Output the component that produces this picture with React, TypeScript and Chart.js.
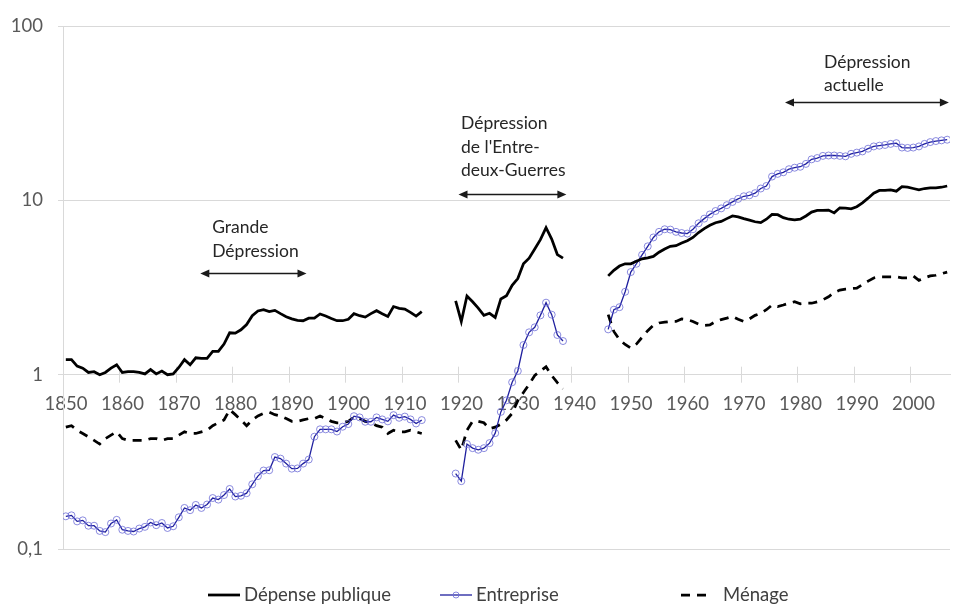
import React, { useEffect, useRef } from "react";
import { Chart, registerables } from "chart.js";

Chart.register(...registerables);

// ---------- DATA ----------
const firstYear = 1850;
const lastYear = 2006;
const periodStarts = [1850, 1919, 1946];

const depense1850 = [
  1.22, 1.22, 1.12, 1.09, 1.03, 1.04, 1.0, 1.03, 1.09, 1.14,
  1.03, 1.04, 1.04, 1.03, 1.01, 1.07, 1.01, 1.05, 1.0, 1.01,
  1.1, 1.22, 1.14, 1.25, 1.24, 1.24, 1.36, 1.36, 1.5, 1.74,
  1.73, 1.81, 1.94, 2.18, 2.32, 2.36, 2.3, 2.34, 2.24, 2.15,
  2.09, 2.05, 2.04, 2.11, 2.11, 2.23, 2.17, 2.1, 2.04, 2.04,
  2.08, 2.24, 2.18, 2.14, 2.24, 2.33, 2.24, 2.16, 2.46, 2.4,
  2.38, 2.28, 2.17, 2.3,
];
const depense1919 = [
  2.65, 2.02, 2.83, 2.62, 2.41, 2.19, 2.25, 2.13, 2.72, 2.84,
  3.26, 3.56, 4.33, 4.66, 5.26, 5.95, 6.98, 6.0, 4.89, 4.66,
];
const depense1946 = [
  3.69, 3.97, 4.2, 4.33, 4.33, 4.47, 4.62, 4.68, 4.77, 5.04,
  5.26, 5.45, 5.5, 5.69, 5.87, 6.13, 6.54, 6.89, 7.2, 7.45,
  7.58, 7.86, 8.14, 8.05, 7.86, 7.7, 7.54, 7.45, 7.8, 8.31,
  8.28, 7.96, 7.8, 7.74, 7.8, 8.14, 8.57, 8.76, 8.76, 8.8,
  8.48, 9.07, 9.03, 8.94, 9.2, 9.68, 10.3, 11.0, 11.4, 11.4,
  11.5, 11.3, 12.0, 11.9, 11.7, 11.5, 11.7, 11.8, 11.8, 11.9,
  12.1,
];

const entreprise1850 = [
  0.154, 0.156, 0.144, 0.146, 0.136, 0.136, 0.127, 0.125, 0.14, 0.147,
  0.129, 0.127, 0.126, 0.131, 0.134, 0.142, 0.137, 0.141, 0.132, 0.135,
  0.152, 0.172, 0.167, 0.179, 0.172, 0.18, 0.196, 0.192, 0.204, 0.221,
  0.2, 0.202, 0.209, 0.235, 0.262, 0.282, 0.283, 0.337, 0.33, 0.309,
  0.289, 0.29, 0.309, 0.326, 0.441, 0.486, 0.486, 0.486, 0.472, 0.503,
  0.521, 0.578, 0.569, 0.537, 0.537, 0.569, 0.554, 0.54, 0.586, 0.566,
  0.575, 0.554, 0.525, 0.549,
];
const entreprise1919 = [
  0.271, 0.245, 0.4, 0.379, 0.371, 0.379, 0.405, 0.462, 0.612, 0.713,
  0.905, 1.05, 1.48, 1.75, 1.87, 2.19, 2.59, 2.21, 1.69, 1.56,
];
const entreprise1946 = [
  1.82, 2.36, 2.44, 2.99, 3.88, 4.33, 4.87, 5.45, 6.13, 6.6,
  6.83, 6.8, 6.6, 6.5, 6.45, 6.83, 7.39, 7.86, 8.31, 8.69,
  9.0, 9.39, 9.8, 10.2, 10.56, 10.7, 11.0, 11.7, 12.1, 13.7,
  14.2, 14.5, 15.1, 15.4, 15.6, 16.2, 17.2, 17.5, 18.0, 18.1,
  18.1, 18.0, 17.9, 18.5, 18.8, 19.1, 19.8, 20.4, 20.6, 20.8,
  21.1, 21.3, 20.1, 20.0, 20.1, 20.4, 21.1, 21.6, 21.9, 22.1,
  22.3,
];

const menage1850 = [
  0.5, 0.51, 0.48, 0.46, 0.44, 0.42, 0.4, 0.43, 0.45, 0.47,
  0.43, 0.42, 0.42, 0.42, 0.42, 0.43, 0.43, 0.42, 0.43, 0.43,
  0.45, 0.47, 0.46, 0.46, 0.47, 0.48, 0.51, 0.53, 0.55, 0.63,
  0.59, 0.55, 0.51, 0.55, 0.58, 0.6, 0.61, 0.59, 0.58, 0.56,
  0.54, 0.54, 0.55, 0.56, 0.56, 0.58, 0.56, 0.54, 0.53, 0.53,
  0.54, 0.57, 0.56, 0.54, 0.53, 0.51, 0.5, 0.46, 0.48, 0.47,
  0.47, 0.48, 0.47, 0.46,
];
const menage1919 = [
  0.42, 0.37, 0.48, 0.54, 0.54, 0.53, 0.49, 0.5, 0.52, 0.55,
  0.6, 0.71, 0.79, 0.88, 0.99, 1.05, 1.11, 0.99, 0.9, 0.83,
];
const menage1946 = [
  2.21, 1.77, 1.59, 1.49, 1.42, 1.5, 1.64, 1.79, 1.92, 1.98,
  2.0, 2.02, 2.02, 2.09, 2.07, 2.02, 1.95, 1.92, 1.93, 2.02,
  2.07, 2.11, 2.16, 2.08, 2.02, 2.09, 2.19, 2.25, 2.36, 2.51,
  2.46, 2.51, 2.57, 2.62, 2.55, 2.57, 2.57, 2.62, 2.69, 2.8,
  2.96, 3.06, 3.1, 3.12, 3.14, 3.29, 3.44, 3.59, 3.64, 3.64,
  3.64, 3.64, 3.59, 3.59, 3.69, 3.48, 3.59, 3.69, 3.72, 3.8,
  3.88,
];

const seriesLabels = ["Dépense publique", "Entreprise", "Ménage"];
const xTickStep = 10;
const yTickValues = [0.1, 1, 10, 100];

const annotations = [
  { lines: ["Grande", "Dépression"], textYear: 1876.4, textValue: 7.0, arrowFrom: 1874.3, arrowTo: 1893.1, arrowValue: 3.84 },
  { lines: ["Dépression", "de l'Entre-", "deux-Guerres"], textYear: 1920.45, textValue: 27.5, arrowFrom: 1920.0, arrowTo: 1939.1, arrowValue: 10.87 },
  { lines: ["Dépression", "actuelle"], textYear: 1984.7, textValue: 62.3, arrowFrom: 1977.8, arrowTo: 2006.8, arrowValue: 36.8 },
];

// ---------- STYLE ----------
const FONT = "Lato";
const AXIS_COLOR = "#595959";
const GRID_COLOR = "#d9d9d9";
const legendStartX = [208, 440, 681];
const legendY = 595;
const legendLineLen = 32;

function assemble(parts: number[][]) {
  const byYear = new Map<number, number>();
  parts.forEach((arr, p) => arr.forEach((v, i) => byYear.set(periodStarts[p] + i, v)));
  const out: { x: number; y: number | null }[] = [];
  for (let yr = firstYear; yr <= lastYear; yr++) {
    // Excel category axis: each year's value sits in the middle of its slot
    out.push({ x: yr + 0.5, y: byYear.has(yr) ? (byYear.get(yr) as number) : null });
  }
  return out;
}

const crossTicksPlugin = {
  id: "crossTicks",
  beforeDatasetsDraw(chart: any) {
    const { ctx, scales } = chart;
    const xs = scales.x;
    const y0 = scales.y.getPixelForValue(1);
    ctx.save();
    ctx.strokeStyle = GRID_COLOR;
    ctx.lineWidth = 1;
    xs.ticks.forEach((t: any) => {
      const px = Math.round(xs.getPixelForValue(t.value)) + 0.5;
      ctx.beginPath();
      ctx.moveTo(px, y0 - 8);
      ctx.lineTo(px, y0 + 8);
      ctx.stroke();
    });
    ctx.restore();
  },
};

function drawArrowHead(ctx: CanvasRenderingContext2D, x: number, y: number, dir: number) {
  ctx.beginPath();
  ctx.moveTo(x, y);
  ctx.lineTo(x - dir * 9, y - 4);
  ctx.lineTo(x - dir * 9, y + 4);
  ctx.closePath();
  ctx.fill();
}

const annotationPlugin = {
  id: "annots",
  afterDatasetsDraw(chart: any) {
    const { ctx, scales } = chart;
    ctx.save();
    ctx.fillStyle = "#262626";
    ctx.strokeStyle = "#1a1a1a";
    ctx.font = `17.5px ${FONT}`;
    ctx.textBaseline = "middle";
    ctx.textAlign = "left";
    annotations.forEach((a) => {
      const tx = scales.x.getPixelForValue(a.textYear);
      const ty = scales.y.getPixelForValue(a.textValue);
      a.lines.forEach((l, i) => ctx.fillText(l, tx, ty + i * 23.5));
      const x1 = scales.x.getPixelForValue(a.arrowFrom);
      const x2 = scales.x.getPixelForValue(a.arrowTo);
      const ay = Math.round(scales.y.getPixelForValue(a.arrowValue)) + 0.5;
      ctx.lineWidth = 1.6;
      ctx.beginPath();
      ctx.moveTo(x1 + 4, ay);
      ctx.lineTo(x2 - 4, ay);
      ctx.stroke();
      ctx.fillStyle = "#1a1a1a";
      drawArrowHead(ctx, x1, ay, -1);
      drawArrowHead(ctx, x2, ay, 1);
      ctx.fillStyle = "#262626";
    });
    ctx.restore();
  },
};

const legendPlugin = {
  id: "customLegend",
  afterDraw(chart: any) {
    const { ctx } = chart;
    ctx.save();
    chart.data.datasets.forEach((ds: any, i: number) => {
      const x0 = legendStartX[i];
      ctx.strokeStyle = ds.borderColor;
      ctx.lineWidth = ds.borderWidth;
      ctx.setLineDash(ds.borderDash || []);
      ctx.beginPath();
      ctx.moveTo(x0, legendY);
      ctx.lineTo(x0 + legendLineLen, legendY);
      ctx.stroke();
      ctx.setLineDash([]);
      if (ds.pointRadius > 0) {
        ctx.strokeStyle = ds.pointBorderColor;
        ctx.lineWidth = ds.pointBorderWidth;
        ctx.beginPath();
        ctx.arc(x0 + legendLineLen / 2, legendY, ds.pointRadius - 0.5, 0, Math.PI * 2);
        ctx.stroke();
      }
      ctx.fillStyle = "#404040";
      ctx.font = `18.5px ${FONT}`;
      ctx.textBaseline = "middle";
      ctx.textAlign = "left";
      const gap = ds.borderDash ? 10 : 4;
      ctx.fillText(ds.label, x0 + legendLineLen + gap, legendY);
    });
    ctx.restore();
  },
};

export default function App() {
  const canvasRef = useRef<HTMLCanvasElement | null>(null);

  useEffect(() => {
    if (!canvasRef.current) return;
    const chart = new Chart(canvasRef.current, {
      type: "line",
      data: {
        datasets: [
          {
            label: seriesLabels[0],
            data: assemble([depense1850, depense1919, depense1946]),
            borderColor: "#000000",
            borderWidth: 2.75,
            pointRadius: 0,
            tension: 0,
          },
          {
            label: seriesLabels[1],
            data: assemble([entreprise1850, entreprise1919, entreprise1946]),
            borderColor: "#1f1f9e",
            borderWidth: 1.3,
            pointRadius: 3.5,
            pointBorderWidth: 1,
            pointBorderColor: "rgba(110,110,215,0.8)",
            pointBackgroundColor: "rgba(255,255,255,0)",
            tension: 0,
          },
          {
            label: seriesLabels[2],
            data: assemble([menage1850, menage1919, menage1946]),
            borderColor: "#000000",
            borderWidth: 2.75,
            borderDash: [9, 7],
            pointRadius: 0,
            tension: 0,
          },
        ],
      } as any,
      options: {
        animation: false,
        responsive: false,
        devicePixelRatio: 1,
        spanGaps: false,
        layout: { padding: { top: 24, bottom: 57, left: 0, right: 0 } },
        plugins: { legend: { display: false }, tooltip: { enabled: false } },
        scales: {
          x: {
            type: "linear",
            min: firstYear,
            max: lastYear + 1,
            position: { y: 1 } as any,
            afterFit: (s: any) => {
              s.height = 0;
            },
            grid: { drawOnChartArea: false, drawTicks: false },
            border: { color: GRID_COLOR, width: 1 },
            ticks: {
              stepSize: xTickStep,
              includeBounds: false,
              autoSkip: false,
              maxRotation: 0,
              padding: 18,
              labelOffset: 3,
              color: AXIS_COLOR,
              font: { family: FONT, size: 18.5 },
              callback: (v: any) => String(v),
            },
          },
          y: {
            type: "logarithmic",
            min: yTickValues[0],
            max: yTickValues[yTickValues.length - 1],
            afterFit: (s: any) => {
              s.width = 63;
            },
            afterBuildTicks: (s: any) => {
              s.ticks = yTickValues.map((v) => ({ value: v }));
            },
            grid: { color: GRID_COLOR, tickLength: 5, drawTicks: true },
            border: { color: GRID_COLOR, width: 1 },
            ticks: {
              padding: 15,
              color: AXIS_COLOR,
              font: { family: FONT, size: 18.5 },
              callback: (v: any) => String(v).replace(".", ","),
            },
          },
        },
      } as any,
      plugins: [crossTicksPlugin, annotationPlugin, legendPlugin],
    });
    return () => chart.destroy();
  }, []);

  return (
    <div style={{ position: "fixed", left: 0, top: 0, width: 955, height: 606, background: "#fff" }}>
      <canvas ref={canvasRef} width={955} height={606} />
    </div>
  );
}
